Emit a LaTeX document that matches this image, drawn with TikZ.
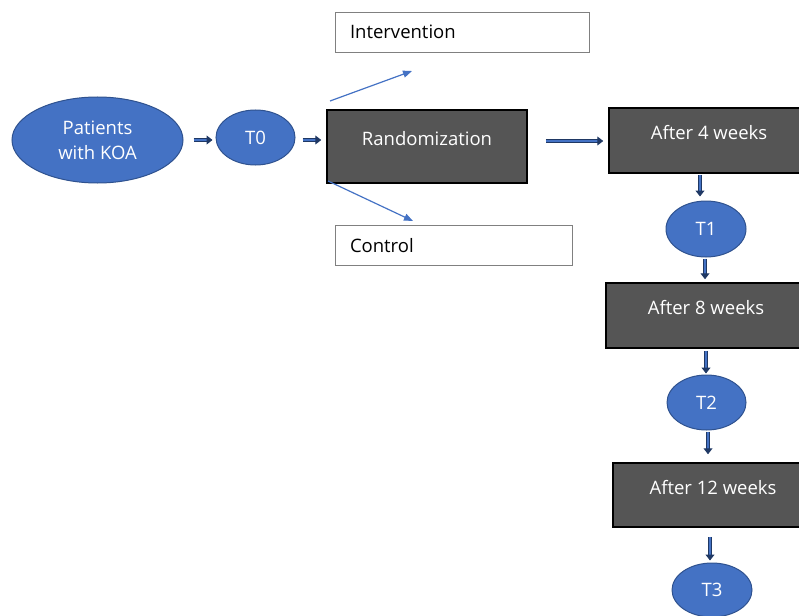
\documentclass[tikz,border=0pt]{standalone}
\usepackage{fontspec}
\setmainfont{Open Sans}
\usetikzlibrary{arrows.meta,shapes.geometric}
\definecolor{eblue}{HTML}{4472C4}
\definecolor{eborder}{HTML}{2F528F}
\definecolor{dgrey}{HTML}{555555}
\definecolor{navy}{HTML}{1F3864}
\tikzset{
  oval/.style={ellipse, fill=eblue, draw=eborder, line width=1pt, text=white, font=\fontsize{18.5}{25}\selectfont, inner sep=0pt, align=center},
  greybox/.style={rectangle, fill=dgrey, draw=black, line width=1.5pt, text=white, font=\fontsize{18.5}{22}\selectfont, text height=13pt, text depth=15pt, inner sep=0pt},
  whitebox/.style={rectangle, draw=gray, line width=0.8pt, fill=white, font=\fontsize{18.5}{22}\selectfont, minimum height=40pt, inner xsep=15pt, inner ysep=0pt, align=left},
  blockarrow/.style={draw=navy, double=eblue, double distance=2.2pt, line width=1pt, -{Triangle[length=6pt,width=9pt]}},
  thinarrow/.style={draw=eblue, line width=1.2pt, -{Triangle[length=9pt,width=7pt]}}
}
\begin{document}
\begin{tikzpicture}[x=1pt,y=-1pt]
\useasboundingbox (0,0) rectangle (799,615);
\clip (0,0) rectangle (799,615);
% nodes
\node[oval, minimum width=171pt, minimum height=86pt] (pat) at (97.5,140) {Patients\\with KOA};
\node[oval, minimum width=79pt, minimum height=55pt] (t0) at (255.5,137.5) {T0};
\node[greybox, minimum width=200pt, minimum height=73pt] (rand) at (427,146.5) {Randomization};
\node[whitebox, text width=224pt] (int) at (462,32) {Intervention};
\node[whitebox, text width=207pt] (con) at (453.5,245.5) {Control};
\node[greybox, minimum width=200pt, minimum height=65pt] (a4) at (709,140.5) {After 4 weeks};
\node[oval, minimum width=80pt, minimum height=56pt] (t1) at (706,229) {T1};
\node[greybox, minimum width=200pt, minimum height=65pt] (a8) at (706,315.5) {After 8 weeks};
\node[oval, minimum width=79pt, minimum height=55pt] (t2) at (706.5,402.5) {T2};
\node[greybox, minimum width=200pt, minimum height=64pt] (a12) at (713,495) {After 12 weeks};
\node[oval, minimum width=80pt, minimum height=54pt] (t3) at (712,590) {T3};
% coordinates for free ends of thin arrows
\coordinate (intend) at (412,71);
\coordinate (conend) at (413,221);
\coordinate (intstart) at (330,101);
\coordinate (constart) at (328,181);
% connectors
\draw[blockarrow, shorten <=10pt, shorten >=3pt] (pat.east |- 0,140) -- (t0.west |- 0,140);
\draw[blockarrow, shorten <=7pt, shorten >=5pt] (t0.east |- 0,140) -- (rand.west |- 0,140);
\draw[blockarrow, shorten <=18pt, shorten >=5pt] (rand.east |- 0,141) -- (a4.west |- 0,141);
\draw[blockarrow, shorten <=1pt, shorten >=4pt] (a4.south -| 700,0) -- (t1.north -| 700,0);
\draw[blockarrow, shorten <=1pt, shorten >=3pt] (t1.south -| 705,0) -- (a8.north -| 705,0);
\draw[blockarrow, shorten <=2pt, shorten >=1pt] (a8.south -| 706,0) -- (t2.north -| 706,0);
\draw[blockarrow, shorten <=1pt, shorten >=8pt] (t2.south -| 708,0) -- (a12.north -| 708,0);
\draw[blockarrow, shorten <=9pt, shorten >=2pt] (a12.south -| 710,0) -- (t3.north -| 710,0);
\draw[thinarrow] (intstart) -- (intend);
\draw[thinarrow] (constart) -- (conend);
\end{tikzpicture}
\end{document}
